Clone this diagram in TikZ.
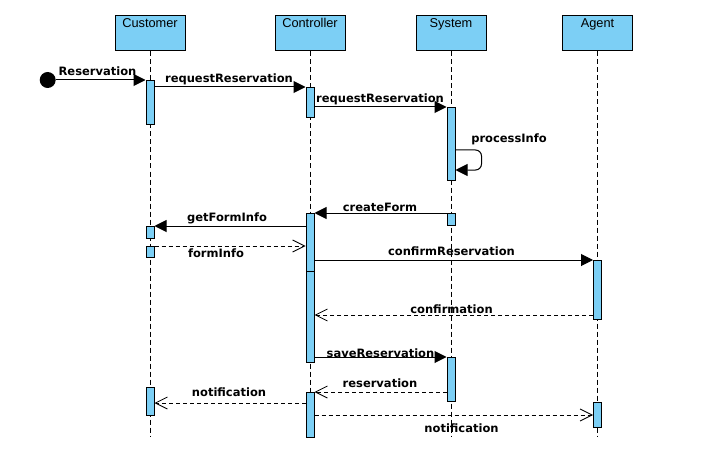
\documentclass[tikz,border=0pt]{standalone}
\usepackage{fontspec}
\setmainfont{Liberation Sans}
\newfontfamily\lblfont{DejaVu Sans}
\usetikzlibrary{arrows.meta}
\definecolor{actblue}{RGB}{124,207,245}
\begin{document}
\begin{tikzpicture}[x=1pt,y=-1pt,
  head/.style={draw=black,fill=actblue,line width=1pt,minimum width=70pt,minimum height=35pt,
    inner ysep=3pt,text height=9pt,text depth=20pt,font=\fontsize{12.8}{14}\selectfont},
  lifeline/.style={draw=black,line width=0.9pt,dash pattern=on 5pt off 3pt},
  act/.style={draw=black,fill=actblue,line width=1pt,minimum width=8pt,inner sep=0pt,anchor=north},
  sync/.style={draw=black,line width=1pt,-{Triangle[length=12pt,width=12pt]}},
  reply/.style={draw=black,line width=0.9pt,dash pattern=on 4pt off 3pt,-{Straight Barb[length=12pt,width=12pt,line width=0.8pt]}},
  msg/.style={font=\lblfont\bfseries\fontsize{11.5}{13}\selectfont,inner sep=0pt,anchor=base}
]
\useasboundingbox (0,0) rectangle (703,465);
% heads
\node[head] (cust) at (150,33.5) {Customer};
\node[head] (ctrl) at (310,33.5) {Controller};
\node[head] (sys) at (451,33.5) {System};
\node[head] (agent) at (597.5,33.5) {Agent};
\coordinate (custend) at (150,437);
\coordinate (ctrlend) at (310,437);
\coordinate (sysend) at (451,437);
\coordinate (agentend) at (597.5,437);
\draw[lifeline] (cust.south) -- (custend);
\draw[lifeline] (ctrl.south) -- (ctrlend);
\draw[lifeline] (sys.south) -- (sysend);
\draw[lifeline] (agent.south) -- (agentend);
% activations
\node[act,minimum height=44pt] (ca1) at (150,80) {};
\node[act,minimum height=12pt] (ca2) at (150,226) {};
\node[act,minimum height=11pt] (ca3) at (150,246) {};
\node[act,minimum height=28pt] (ca4) at (150,387) {};
\node[act,minimum height=30pt] (cn1) at (310,87) {};
\node[act,minimum height=58pt] (cn2) at (310,213) {};
\node[act,minimum height=91pt] (cn3) at (310,271) {};
\node[act,minimum height=45pt] (cn4) at (310,392) {};
\node[act,minimum height=73pt] (sa1) at (451,107) {};
\node[act,minimum height=12pt] (sa2) at (451,213) {};
\node[act,minimum height=44pt] (sa3) at (451,357) {};
\node[act,minimum height=59pt] (aa1) at (597.5,260) {};
\node[act,minimum height=25pt] (aa2) at (597.5,402) {};
% start
\node[circle,fill=black,minimum size=16pt,inner sep=0pt] (start) at (47.7,80) {};
\draw[sync] (start) -- (ca1.north west);
\node[msg] (l1) at (97.5,76) {Reservation};
% requestReservation 1
\draw[sync] (ca1.east |- cn1.north) -- (cn1.north west);
\node[msg] (l2) at (229,83) {requestReservation};
% requestReservation 2
\draw[sync] (cn1.east |- sa1.north) -- (sa1.north west);
\node[msg] (l3) at (380,103) {requestReservation};
% processInfo self
\coordinate (p1) at (481.5,150);
\coordinate (p2) at (481.5,170);
\draw[sync,rounded corners=6pt] (sa1.east |- p1) -- (p1) -- (p2) -- (sa1.east |- p2);
\node[msg] (l4) at (509,143) {processInfo};
% createForm
\draw[sync] (sa2.north west) -- (cn2.north east);
\node[msg] (l5) at (380,211) {createForm};
% getFormInfo
\draw[sync] (cn2.west |- ca2.north) -- (ca2.north east);
\node[msg] (l6) at (227,221) {getFormInfo};
% formInfo
\draw[reply] (ca3.north east) -- (cn2.west |- ca3.north);
\node[msg] (l7) at (216,257.5) {formInfo};
% confirmReservation
\draw[sync] (cn2.east |- aa1.north) -- (aa1.north west);
\node[msg] (l8) at (451.5,255) {confirmReservation};
% confirmation
\coordinate (y9) at (0,315);
\draw[reply] (aa1.west |- y9) -- (cn3.east |- y9);
\node[msg] (l9) at (451.5,313) {confirmation};
% saveReservation
\draw[sync] (cn3.east |- sa3.north) -- (sa3.north west);
\node[msg] (l10) at (380.5,357) {saveReservation};
% reservation
\draw[reply] (sa3.west |- cn4.north) -- (cn4.north east);
\node[msg] (l11) at (380,387) {reservation};
% notification 1
\coordinate (y12) at (0,403);
\draw[reply] (cn4.west |- y12) -- (ca4.east |- y12);
\node[msg] (l12) at (229,396) {notification};
% notification 2
\coordinate (y13) at (0,415);
\draw[reply] (cn4.east |- y13) -- (aa2.west |- y13);
\node[msg] (l13) at (461.5,432) {notification};
\end{tikzpicture}
\end{document}
